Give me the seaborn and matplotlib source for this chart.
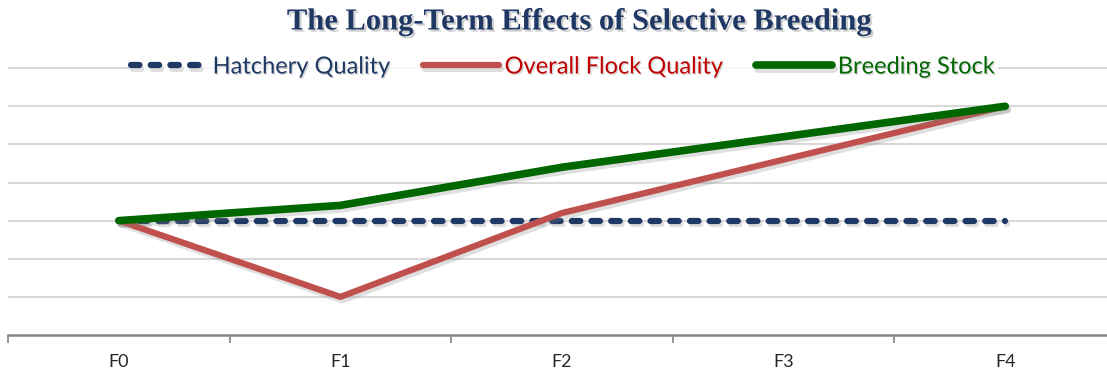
import numpy as np
import pandas as pd
import matplotlib.pyplot as plt
import matplotlib.patheffects as pe
import seaborn as sns

# data
generations = ['F0', 'F1', 'F2', 'F3', 'F4']
hatchery = [3, 3, 3, 3, 3]
overall_flock = [3, 1, 3.2, 4.6, 6]
breeding_stock = [3, 3.4, 4.4, 5.2, 6]

series_names = ['Hatchery Quality', 'Overall Flock Quality', 'Breeding Stock']
colors = ['#1f3864', '#c0504d', '#006600']
text_colors = ['#1f3864', '#c00000', '#006600']

df = pd.DataFrame({
    'gen': list(range(len(generations))) * 3,
    'value': hatchery + overall_flock + breeding_stock,
    'series': [s for s in series_names for _ in generations],
})

sns.set_style('white')
plt.rcParams['font.family'] = ['Lato', 'DejaVu Sans']

fig = plt.figure(figsize=(11.07, 3.71), dpi=100)
ax = fig.add_axes([8 / 1107, 1 - 335 / 371, 1108 / 1107, (335 - 30) / 371])

shadow = [pe.SimpleLineShadow(offset=(1.5, -2.5), shadow_color='gray', alpha=0.25), pe.Normal()]
styles = [dict(linestyle=(0, (1.35, 1.8)), lw=4.5),
          dict(linestyle='-', lw=4.5),
          dict(linestyle='-', lw=5.5)]

for name, col, st in zip(series_names, colors, styles):
    sns.lineplot(data=df[df['series'] == name], x='gen', y='value', ax=ax, color=col,
                 label=name, solid_capstyle='round', dash_capstyle='round',
                 path_effects=shadow, zorder=3, **st)

ax.set_xlim(-0.5, 4.5)
ax.set_ylim(0, 8)
ax.set_yticks(np.arange(1, 8))
ax.set_yticklabels([])
ax.tick_params(axis='y', length=0)
ax.yaxis.grid(True, color='#d9d9d9', lw=1.5)
ax.set_xticks(range(len(generations)))
ax.set_xticklabels(generations, fontsize=13)
ax.set_xticks(np.arange(-0.5, 5, 1), minor=True)
ax.tick_params(axis='x', which='major', bottom=False, length=0, pad=14)
ax.tick_params(axis='x', which='minor', bottom=True, length=6, width=1.2, color='#868686', direction='out')
ax.set_xlabel('')
ax.set_ylabel('')
for s in ['top', 'right', 'left']:
    ax.spines[s].set_visible(False)
ax.spines['bottom'].set_color('#868686')
ax.spines['bottom'].set_linewidth(1.8)

leg = ax.legend(loc='center', bbox_to_anchor=(555 / 1108, (335 - 67) / 305), ncol=3,
                frameon=True, fontsize=17, handlelength=3.2, handletextpad=0.25,
                columnspacing=1.4, borderpad=0.1)
leg.get_frame().set_facecolor('white')
leg.get_frame().set_edgecolor('white')
for txt, c in zip(leg.get_texts(), text_colors):
    txt.set_color(c)
    txt.set_path_effects([pe.withSimplePatchShadow(offset=(1, -1), shadow_rgbFace='gray', alpha=0.3)])

fig.text(579 / 1107, 1 - 22 / 371, 'The Long-Term Effects of Selective Breeding',
         ha='center', va='center', fontsize=22, fontweight='bold', color='#1f3864',
         family=['Liberation Serif', 'DejaVu Serif'],
         path_effects=[pe.withSimplePatchShadow(offset=(1.5, -1.5), shadow_rgbFace='gray', alpha=0.4)])

fig.savefig('out.png', dpi=100)
